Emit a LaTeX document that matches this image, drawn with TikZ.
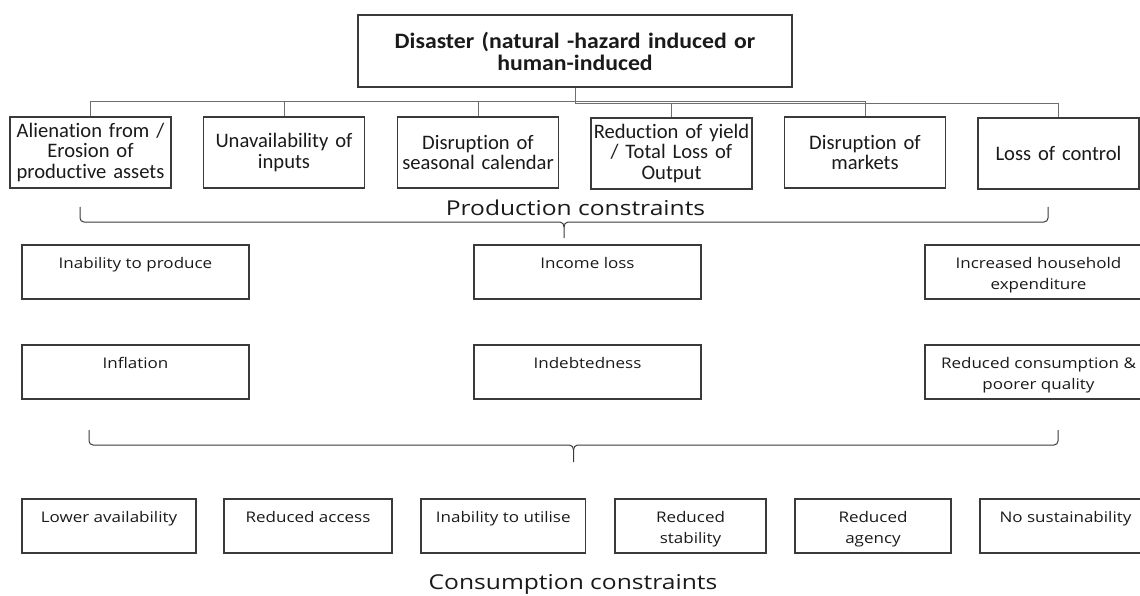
\documentclass[tikz,border=0pt]{standalone}
\usepackage{fontspec}
\setmainfont[Ligatures={NoCommon}]{Carlito}
\newfontfamily\topfont[FakeStretch=1.08,Ligatures={NoCommon}]{Carlito}
\newfontfamily\lowfont[FakeStretch=1.16]{Open Sans}
\newfontfamily\lblfont[FakeStretch=1.2]{Open Sans}
\definecolor{boxline}{HTML}{3A3A3A}
\definecolor{conn}{HTML}{6E6E6E}
\definecolor{txt}{HTML}{1A1A1A}
\newcommand{\tbx}[3]{\parbox[c][#2pt][t]{#1pt}{\centering\rule{0pt}{23.5pt}#3}}
\begin{document}
\begin{tikzpicture}[x=1pt,y=-1pt,
  cbox/.style={draw=boxline, line width=1.1pt, inner sep=0pt, text=txt},
  top/.style={cbox, minimum width=434pt, minimum height=72pt, text width=430pt, align=center,
     font=\topfont\fontsize{22}{22}\selectfont\bfseries},
  prod/.style={cbox, minimum width=161pt, minimum height=71pt, text width=160pt, align=center,
     font=\fontsize{20.6}{20.5}\selectfont},
  low/.style={cbox, line width=1.3pt, font=\lowfont\fontsize{14.67}{20.5}\selectfont},
  conline/.style={draw=conn, line width=1pt},
  brace/.style={draw=boxline, line width=1pt},
  lbl/.style={inner sep=0pt, text=txt, font=\lblfont\fontsize{20.5}{22}\selectfont}]
\useasboundingbox (0,0) rectangle (1140,596);
\clip (0,0) rectangle (1140,596);
% top
\node[top] (dis) at (575,51) {Disaster (natural -hazard induced or\\human-induced};
% production row
\node[prod] (p1) at (90.5,152.5) {Alienation from /\\Erosion of\\productive assets};
\node[prod] (p2) at (284,152.5) {Unavailability of\\inputs};
\node[prod] (p3) at (478,152.5) {Disruption of\\seasonal calendar};
\node[prod] (p4) at (671.5,153.5) {Reduction of yield\\/ Total Loss of\\Output};
\node[prod] (p5) at (865,152.5) {Disruption of\\markets};
\node[prod] (p6) at (1058.5,153.5) {Loss of control};
% connectors
\coordinate (busA) at (0,101.5);
\coordinate (busB) at (0,104);
\draw[conline] (p1.north) -- (p1.north |- busA) -- (p5.north |- busA) -- (p5.north);
\draw[conline] (p2.north) -- (p2.north |- busA);
\draw[conline] (p3.north) -- (p3.north |- busA);
\draw[conline] (p4.north) -- (p4.north |- busB);
\draw[conline] (dis.south) -- (dis.south |- busB) -- (p6.north |- busB) -- (p6.north);
% production constraints label and brace
\node[lbl] (pc) at (575.5,208) {Production constraints};
\coordinate (b1l) at (80,207);
\coordinate (b1t) at (564,238);
\coordinate (b1r) at (1048,207);
\draw[brace] (b1l) -- ++(0,11) to[out=-90,in=180] ++(4,4) -- (560,222) to[out=0,in=90] (b1t |- 0,227) -- (b1t);
\draw[brace] (b1r) -- ++(0,11) to[out=-90,in=0] ++(-4,4) -- (568,222) to[out=180,in=90] (b1t |- 0,227);
% middle rows
\node[low] (i1) at (135.5,272) {\tbx{227}{54}{Inability to produce}};
\node[low] (i2) at (587.5,272) {\tbx{227}{54}{Income loss}};
\node[low] (i3) at (1038.5,272) {\tbx{227}{54}{Increased household\\expenditure}};
\node[low] (j1) at (135.5,372) {\tbx{227}{54}{Inflation}};
\node[low] (j2) at (587.5,372) {\tbx{227}{54}{Indebtedness}};
\node[low] (j3) at (1038.5,372) {\tbx{227}{54}{Reduced consumption \&\\poorer quality}};
% second brace
\coordinate (b2l) at (89,430);
\coordinate (b2t) at (573.5,462);
\coordinate (b2r) at (1058,430);
\draw[brace] (b2l) -- ++(0,11) to[out=-90,in=180] ++(4,4) -- (569.5,445) to[out=0,in=90] (b2t |- 0,450) -- (b2t);
\draw[brace] (b2r) -- ++(0,11) to[out=-90,in=0] ++(-4,4) -- (577.5,445) to[out=180,in=90] (b2t |- 0,450);
% consumption row
\node[low] (c1) at (109,526) {\tbx{174}{54}{Lower availability}};
\node[low] (c2) at (308,526) {\tbx{168}{54}{Reduced access}};
\node[low] (c3) at (503.25,526) {\tbx{164.5}{54}{Inability to utilise}};
\node[low] (c4) at (690.5,526) {\tbx{151}{54}{Reduced\\stability}};
\node[low] (c5) at (873,526) {\tbx{156}{54}{Reduced\\agency}};
\node[low] (c6) at (1065.5,526) {\tbx{171}{54}{No sustainability}};
\node[lbl] (cc) at (573,584) {Consumption constraints};
\end{tikzpicture}
\end{document}
